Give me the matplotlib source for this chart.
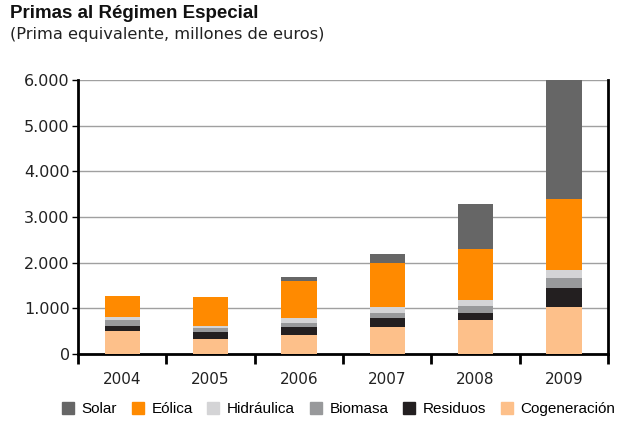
import matplotlib.pyplot as plt
import numpy as np
from matplotlib.ticker import FuncFormatter
from matplotlib.lines import Line2D

# Primas al Régimen Especial, millones de euros
anios = ['2004', '2005', '2006', '2007', '2008', '2009']
cogeneracion = [510, 328, 416, 598, 744, 1036]
residuos = [110, 147, 182, 197, 161, 402]
biomasa = [131, 88, 87, 109, 146, 226]
hidraulica = [66, 50, 96, 132, 131, 175]
eolica = [460, 642, 819, 964, 1110, 1548]
solar = [0, 0, 88, 180, 992, 2613]

series = [
    ('Cogeneración', cogeneracion, '#fdc08a'),
    ('Residuos', residuos, '#231f20'),
    ('Biomasa', biomasa, '#98999b'),
    ('Hidráulica', hidraulica, '#d4d4d6'),
    ('Eólica', eolica, '#ff8a00'),
    ('Solar', solar, '#666666'),
]

fig = plt.figure(figsize=(6.4, 4.23), dpi=100)
ax = fig.add_axes([0.122, 0.163, 0.828, 0.648])

x = np.arange(len(anios))
base = np.zeros(len(anios))
for nombre, valores, color in series:
    ax.bar(x, valores, bottom=base, width=0.4, color=color, zorder=3)
    base += np.array(valores)

ax.set_xlim(-0.5, len(anios) - 0.5)
ax.set_ylim(0, 6000)
ax.set_yticks(range(0, 6001, 1000))
ax.yaxis.set_major_formatter(FuncFormatter(lambda v, p: f'{int(v):,}'.replace(',', '.')))
ax.grid(axis='y', color='#a0a0a0', linewidth=1, zorder=0)

ax.set_xticks(x)
ax.set_xticklabels(anios)
ax.set_xticks(np.arange(-0.5, len(anios)), minor=True)
ax.tick_params(axis='x', which='major', length=0, pad=13, labelsize=11, labelcolor='#222222')
ax.tick_params(axis='x', which='minor', length=7, width=2, direction='out')
ax.tick_params(axis='y', length=4, width=1, labelsize=11.5, labelcolor='#222222', pad=2)

for lado in ['left', 'bottom', 'right']:
    ax.spines[lado].set_linewidth(2)
    ax.spines[lado].set_color('black')
ax.spines['top'].set_visible(False)

fig.text(0.016, 0.968, 'Primas al Régimen Especial', fontsize=13.5, fontweight='bold',
         family='Liberation Sans', va='center', color='#111111')
fig.text(0.016, 0.918, '(Prima equivalente, millones de euros)', fontsize=11.7,
         va='center', color='#222222')

handles = [Line2D([], [], marker='s', linestyle='none', markersize=9, color=c)
           for n, v, c in reversed(series)]
labels = [n for n, v, c in reversed(series)]
fig.legend(handles, labels, loc='center', bbox_to_anchor=(0.528, 0.033), ncol=6,
           frameon=False, prop={'family': 'Liberation Sans', 'size': 11},
           handletextpad=0.4, columnspacing=0.85, handlelength=1.0)

fig.savefig('out.png', dpi=100)
